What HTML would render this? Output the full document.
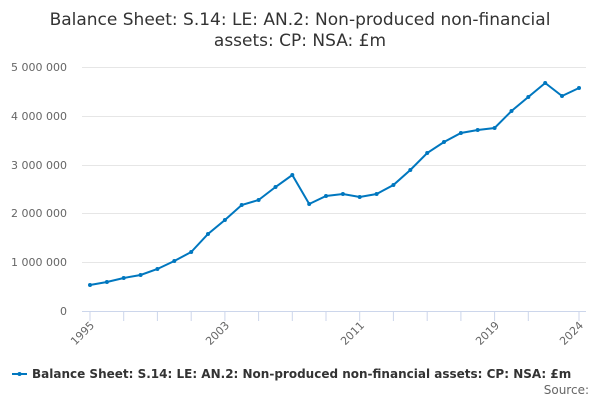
<!DOCTYPE html>
<html><head><meta charset="utf-8"><style>
body{margin:0;background:#fff;width:600px;height:400px;overflow:hidden;font-family:"DejaVu Sans","Liberation Sans",sans-serif;}
</style></head><body>
<svg width="600" height="400" xmlns="http://www.w3.org/2000/svg" font-family="DejaVu Sans, Liberation Sans, sans-serif">
<text x="300" y="25" text-anchor="middle" font-size="17" fill="#333">Balance Sheet: S.14: LE: AN.2: Non-produced non-financial</text>
<text x="300" y="46" text-anchor="middle" font-size="17" fill="#333">assets: CP: NSA: £m</text>
<g stroke="#e6e6e6" stroke-width="1">
<line x1="82" x2="586" y1="67.5" y2="67.5"/><line x1="82" x2="586" y1="116.5" y2="116.5"/>
<line x1="82" x2="586" y1="165.5" y2="165.5"/><line x1="82" x2="586" y1="213.5" y2="213.5"/>
<line x1="82" x2="586" y1="262.5" y2="262.5"/>
</g>
<line x1="82" x2="586" y1="311.5" y2="311.5" stroke="#ccd6eb"/>
<g stroke="#ccd6eb">
<line x1="90" x2="90" y1="311" y2="321"/><line x1="123.7" x2="123.7" y1="311" y2="321"/>
<line x1="157.4" x2="157.4" y1="311" y2="321"/><line x1="191.2" x2="191.2" y1="311" y2="321"/>
<line x1="224.9" x2="224.9" y1="311" y2="321"/><line x1="258.6" x2="258.6" y1="311" y2="321"/>
<line x1="292.3" x2="292.3" y1="311" y2="321"/><line x1="326" x2="326" y1="311" y2="321"/>
<line x1="359.7" x2="359.7" y1="311" y2="321"/><line x1="393.4" x2="393.4" y1="311" y2="321"/>
<line x1="427.2" x2="427.2" y1="311" y2="321"/><line x1="460.9" x2="460.9" y1="311" y2="321"/>
<line x1="494.6" x2="494.6" y1="311" y2="321"/><line x1="528.3" x2="528.3" y1="311" y2="321"/>
<line x1="579" x2="579" y1="311" y2="321"/>
</g>
<g font-size="11" fill="#666" text-anchor="end">
<text x="67" y="71">5 000 000</text><text x="67" y="120">4 000 000</text>
<text x="67" y="169">3 000 000</text><text x="67" y="217">2 000 000</text>
<text x="67" y="266">1 000 000</text><text x="67" y="315">0</text>
<text transform="translate(95,326) rotate(-45)">1995</text>
<text transform="translate(230,326) rotate(-45)">2003</text>
<text transform="translate(365,326) rotate(-45)">2011</text>
<text transform="translate(500,326) rotate(-45)">2019</text>
<text transform="translate(584,326) rotate(-45)">2024</text>
</g>
<polyline fill="none" stroke="#0077bf" stroke-width="2" points="90,285 106.9,282 123.7,278 140.6,275 157.4,269 174.3,261 191.2,252 208,234 224.9,220 241.7,205 258.6,200 275.5,187 292.3,175 309.2,204 326,196 342.9,194 359.7,197 376.6,194 393.4,185 410.3,170 427.2,153 444,142 460.9,133 477.7,130 494.6,128 511.5,111 528.3,97 545.2,83 562,96 579,88"/>
<g fill="#0077bf">
<circle cx="90" cy="285" r="2"/><circle cx="106.9" cy="282" r="2"/><circle cx="123.7" cy="278" r="2"/><circle cx="140.6" cy="275" r="2"/><circle cx="157.4" cy="269" r="2"/><circle cx="174.3" cy="261" r="2"/><circle cx="191.2" cy="252" r="2"/><circle cx="208" cy="234" r="2"/><circle cx="224.9" cy="220" r="2"/><circle cx="241.7" cy="205" r="2"/><circle cx="258.6" cy="200" r="2"/><circle cx="275.5" cy="187" r="2"/><circle cx="292.3" cy="175" r="2"/><circle cx="309.2" cy="204" r="2"/><circle cx="326" cy="196" r="2"/><circle cx="342.9" cy="194" r="2"/><circle cx="359.7" cy="197" r="2"/><circle cx="376.6" cy="194" r="2"/><circle cx="393.4" cy="185" r="2"/><circle cx="410.3" cy="170" r="2"/><circle cx="427.2" cy="153" r="2"/><circle cx="444" cy="142" r="2"/><circle cx="460.9" cy="133" r="2"/><circle cx="477.7" cy="130" r="2"/><circle cx="494.6" cy="128" r="2"/><circle cx="511.5" cy="111" r="2"/><circle cx="528.3" cy="97" r="2"/><circle cx="545.2" cy="83" r="2"/><circle cx="562" cy="96" r="2"/><circle cx="579" cy="88" r="2"/>
</g>
<line x1="12" x2="27" y1="374" y2="374" stroke="#0077bf" stroke-width="2"/>
<circle cx="19.5" cy="374" r="2" fill="#0077bf"/>
<text x="32" y="378" font-size="12" font-weight="bold" fill="#333">Balance Sheet: S.14: LE: AN.2: Non-produced non-financial assets: CP: NSA: £m</text>
<text x="589" y="394" text-anchor="end" font-size="12" fill="#666">Source:</text>
</svg>
</body></html>
